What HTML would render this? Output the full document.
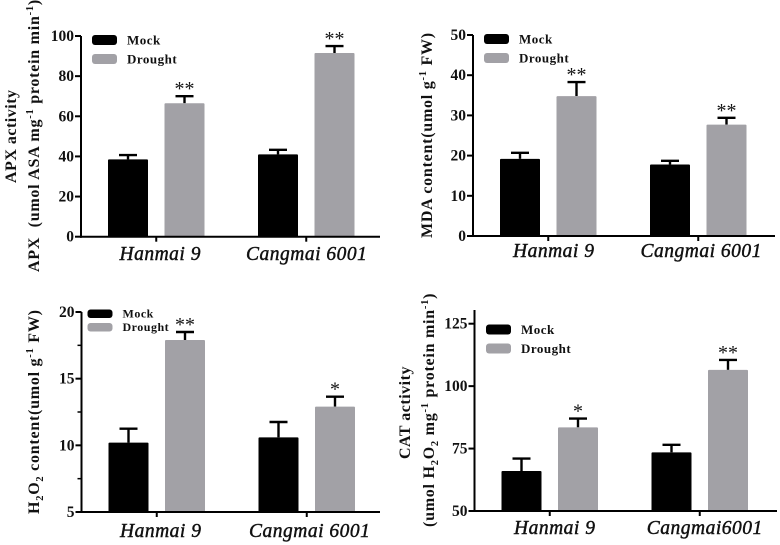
<!DOCTYPE html>
<html>
<head>
<meta charset="utf-8">
<style>
html,body{margin:0;padding:0;background:#fff;width:780px;height:545px;overflow:hidden}
svg{display:block;filter:blur(0.35px)}
text{font-family:"Liberation Serif","DejaVu Serif",serif;font-weight:bold;fill:#111}
</style>
</head>
<body>
<svg id="chart" xmlns="http://www.w3.org/2000/svg" width="780" height="545" viewBox="0 0 780 545">
  <g>
    <text transform="translate(16,183) rotate(-90)" font-size="16" letter-spacing="0.5">APX activity</text>
    <text transform="translate(39,272) rotate(-90)" font-size="16" letter-spacing="0.75">APX&#160;&#160;(umol ASA mg<tspan dy="-6" font-size="10.5">-1</tspan><tspan dy="6"> protein min</tspan><tspan dy="-6" font-size="10.5">-1</tspan><tspan dy="6">)</tspan></text>
  </g>
  <text transform="translate(432,238) rotate(-90)" font-size="16" letter-spacing="0.75">MDA content(umol g<tspan dy="-6" font-size="10.5">-1</tspan><tspan dy="6"> FW)</tspan></text>
  <text transform="translate(39,514) rotate(-90)" font-size="16" letter-spacing="0.75">H<tspan dy="4" font-size="10.5">2</tspan><tspan dy="-4">O</tspan><tspan dy="4" font-size="10.5">2</tspan><tspan dy="-4"> content(umol g</tspan><tspan dy="-6" font-size="10.5">-1</tspan><tspan dy="6"> FW)</tspan></text>
  <g>
    <text transform="translate(410,459) rotate(-90)" font-size="16" letter-spacing="0.5">CAT activity</text>
    <text transform="translate(434,527) rotate(-90)" font-size="16" letter-spacing="0.75">(umol H<tspan dy="4" font-size="10.5">2</tspan><tspan dy="-4">O</tspan><tspan dy="4" font-size="10.5">2</tspan><tspan dy="-4"> mg</tspan><tspan dy="-6" font-size="10.5">-1</tspan><tspan dy="6"> protein min</tspan><tspan dy="-6" font-size="10.5">-1</tspan><tspan dy="6">)</tspan></text>
  </g>
</svg>
<script>
// Series names
const seriesNames = ['Mock', 'Drought'];

// APX panel data
const apxCategories = ['Hanmai 9', 'Cangmai 6001'];
const apxMock = [38.5, 41];
const apxDrought = [66.5, 91.5];
const apxMockErr = [2.2, 2.3];
const apxDroughtErr = [3.5, 3.5];
const apxMockStars = ['', ''];
const apxDroughtStars = ['**', '**'];
const apxTicks = [0, 20, 40, 60, 80, 100];

// MDA panel data
const mdaCategories = ['Hanmai 9', 'Cangmai 6001'];
const mdaMock = [19.2, 17.8];
const mdaDrought = [34.8, 27.7];
const mdaMockErr = [1.5, 0.9];
const mdaDroughtErr = [3.5, 1.7];
const mdaMockStars = ['', ''];
const mdaDroughtStars = ['**', '**'];
const mdaTicks = [0, 10, 20, 30, 40, 50];

// H2O2 panel data
const h2o2Categories = ['Hanmai 9', 'Cangmai 6001'];
const h2o2Mock = [10.2, 10.6];
const h2o2Drought = [17.9, 12.9];
const h2o2MockErr = [1.05, 1.15];
const h2o2DroughtErr = [0.6, 0.75];
const h2o2MockStars = ['', ''];
const h2o2DroughtStars = ['**', '*'];
const h2o2Ticks = [5, 10, 15, 20];
const h2o2MinorTicks = [7.5, 12.5, 17.5];

// CAT panel data
const catCategories = ['Hanmai 9', 'Cangmai6001'];
const catMock = [66, 73.5];
const catDrought = [83.5, 106.5];
const catMockErr = [5, 3];
const catDroughtErr = [3.5, 4];
const catMockStars = ['', ''];
const catDroughtStars = ['*', '**'];
const catTicks = [50, 75, 100, 125];

const svg = document.getElementById('chart');
const NS = 'http://www.w3.org/2000/svg';
const BLACK = '#000000';
const GREY = '#a2a1a6';

function mk(tag, parent, props) {
  const el = document.createElementNS(NS, tag);
  for (const k in props) el.setAttribute(k, props[k]);
  parent.appendChild(el);
  return el;
}

function drawPanel(p) {
  const yScale = v => p.yBottom - (v - p.domain[0]) / (p.domain[1] - p.domain[0]) * (p.yBottom - p.yTop);
  const xScale = (g, s) => p.axisX + 27 + g * 150 + s * 56.5;
  const barW = 40;

  const g = mk('g', svg, {});
  
  

  // bars, error bars and significance marks
  p.series.forEach((s, si) => {
    s.values.forEach((v, gi) => {
      const x = xScale(gi, si);
      const top = yScale(v);
      const errTop = yScale(v + s.errs[gi]);
      const cx = x + barW / 2;

      const stem = mk('line', g, {x1: cx, x2: cx, y1: top, y2: errTop, stroke: '#000', 'stroke-width': 2.4});
      
      

      const cap = mk('line', g, {x1: cx - 9, x2: cx + 9, y1: errTop, y2: errTop, stroke: '#000', 'stroke-width': 2.4});
      
      

      const bar = mk('rect', g, {x: x, y: top, width: barW, height: p.yBottom - top, fill: s.color, rx: 1});
      
      

      if (s.stars[gi]) {
        const star = mk('text', g, {x: cx, y: errTop - 1, 'text-anchor': 'middle', 'font-size': 20});
        star.textContent = s.stars[gi];
        star.style.fontWeight = 'normal';
        
        
      }
    });
  });

  // y axis
  const yAxisLine = mk('line', g, {x1: p.axisX, x2: p.axisX, y1: p.axisTop, y2: p.yBottom + 1, stroke: '#000', 'stroke-width': 2});
  
  

  p.ticks.forEach(t => {
    const y = yScale(t);
    const tick = mk('line', g, {x1: p.axisX - 6, x2: p.axisX, y1: y, y2: y, stroke: '#000', 'stroke-width': 2});
    
    

    const label = mk('text', g, {x: p.axisX - 7, y: y + 5, 'text-anchor': 'end', 'font-size': 15.5});
    label.textContent = t;
    
    
  });

  (p.minorTicks || []).forEach(t => {
    const y = yScale(t);
    const minor = mk('line', g, {x1: p.axisX - 4, x2: p.axisX, y1: y, y2: y, stroke: '#000', 'stroke-width': 1.5});
    
    
  });

  // x axis
  const xAxisLine = mk('line', g, {x1: p.axisX - 1, x2: p.axisEnd, y1: p.yBottom, y2: p.yBottom, stroke: '#000', 'stroke-width': 2});
  
  

  p.categories.forEach((c, gi) => {
    const cx = (xScale(gi, 0) + xScale(gi, 1) + barW) / 2;
    const xt = mk('line', g, {x1: cx, x2: cx, y1: p.yBottom, y2: p.yBottom + 5, stroke: '#000', 'stroke-width': 2});
    
    

    const label = mk('text', g, {x: cx + p.catShift[gi], y: p.catY, 'text-anchor': 'middle', 'font-size': 19.5, 'font-style': 'italic', 'letter-spacing': 0.5});
    label.textContent = c;
    label.style.fontWeight = 'normal';
    label.style.stroke = '#111';
    label.style.strokeWidth = '0.45px';
    
    
  });

  // legend
  p.series.forEach((s, si) => {
    const sy = p.legend.y + si * p.legend.step;
    const swatch = mk('rect', g, {x: p.legend.x, y: sy, width: 25, height: p.legend.h, rx: 3, fill: s.color});
    
    

    const lt = mk('text', g, {x: p.legend.x + 35, y: sy + p.legend.h - 0.5, 'font-size': p.legend.size, 'letter-spacing': 0.5});
    lt.textContent = s.name;
    
    
  });
}

drawPanel({
  id: 'apx', axisX: 81, axisTop: 36, axisEnd: 380, yTop: 36, yBottom: 236.7, domain: [0, 100],
  ticks: apxTicks, categories: apxCategories, catY: 260, catShift: [4, 0.5],
  legend: {x: 92, y: 35, step: 19, h: 10, size: 13},
  series: [
    {name: seriesNames[0], color: BLACK, values: apxMock, errs: apxMockErr, stars: apxMockStars},
    {name: seriesNames[1], color: GREY, values: apxDrought, errs: apxDroughtErr, stars: apxDroughtStars}
  ]
});

drawPanel({
  id: 'mda', axisX: 473, axisTop: 35, axisEnd: 775, yTop: 35, yBottom: 236, domain: [0, 50],
  ticks: mdaTicks, categories: mdaCategories, catY: 257, catShift: [5.5, 3],
  legend: {x: 484, y: 34, step: 19, h: 10, size: 13},
  series: [
    {name: seriesNames[0], color: BLACK, values: mdaMock, errs: mdaMockErr, stars: mdaMockStars},
    {name: seriesNames[1], color: GREY, values: mdaDrought, errs: mdaDroughtErr, stars: mdaDroughtStars}
  ]
});

drawPanel({
  id: 'h2o2', axisX: 81.5, axisTop: 312, axisEnd: 380, yTop: 312, yBottom: 512, domain: [5, 20],
  ticks: h2o2Ticks, minorTicks: h2o2MinorTicks, categories: h2o2Categories, catY: 537, catShift: [4, 3],
  legend: {x: 87.5, y: 309.5, step: 13.5, h: 8.5, size: 12},
  series: [
    {name: seriesNames[0], color: BLACK, values: h2o2Mock, errs: h2o2MockErr, stars: h2o2MockStars},
    {name: seriesNames[1], color: GREY, values: h2o2Drought, errs: h2o2DroughtErr, stars: h2o2DroughtStars}
  ]
});

drawPanel({
  id: 'cat', axisX: 474.5, axisTop: 310, axisEnd: 777, yTop: 323.7, yBottom: 511, domain: [50, 125],
  ticks: catTicks, categories: catCategories, catY: 534, catShift: [5, 5],
  legend: {x: 486, y: 324.5, step: 19, h: 10, size: 13},
  series: [
    {name: seriesNames[0], color: BLACK, values: catMock, errs: catMockErr, stars: catMockStars},
    {name: seriesNames[1], color: GREY, values: catDrought, errs: catDroughtErr, stars: catDroughtStars}
  ]
});
</script>
</body>
</html>
